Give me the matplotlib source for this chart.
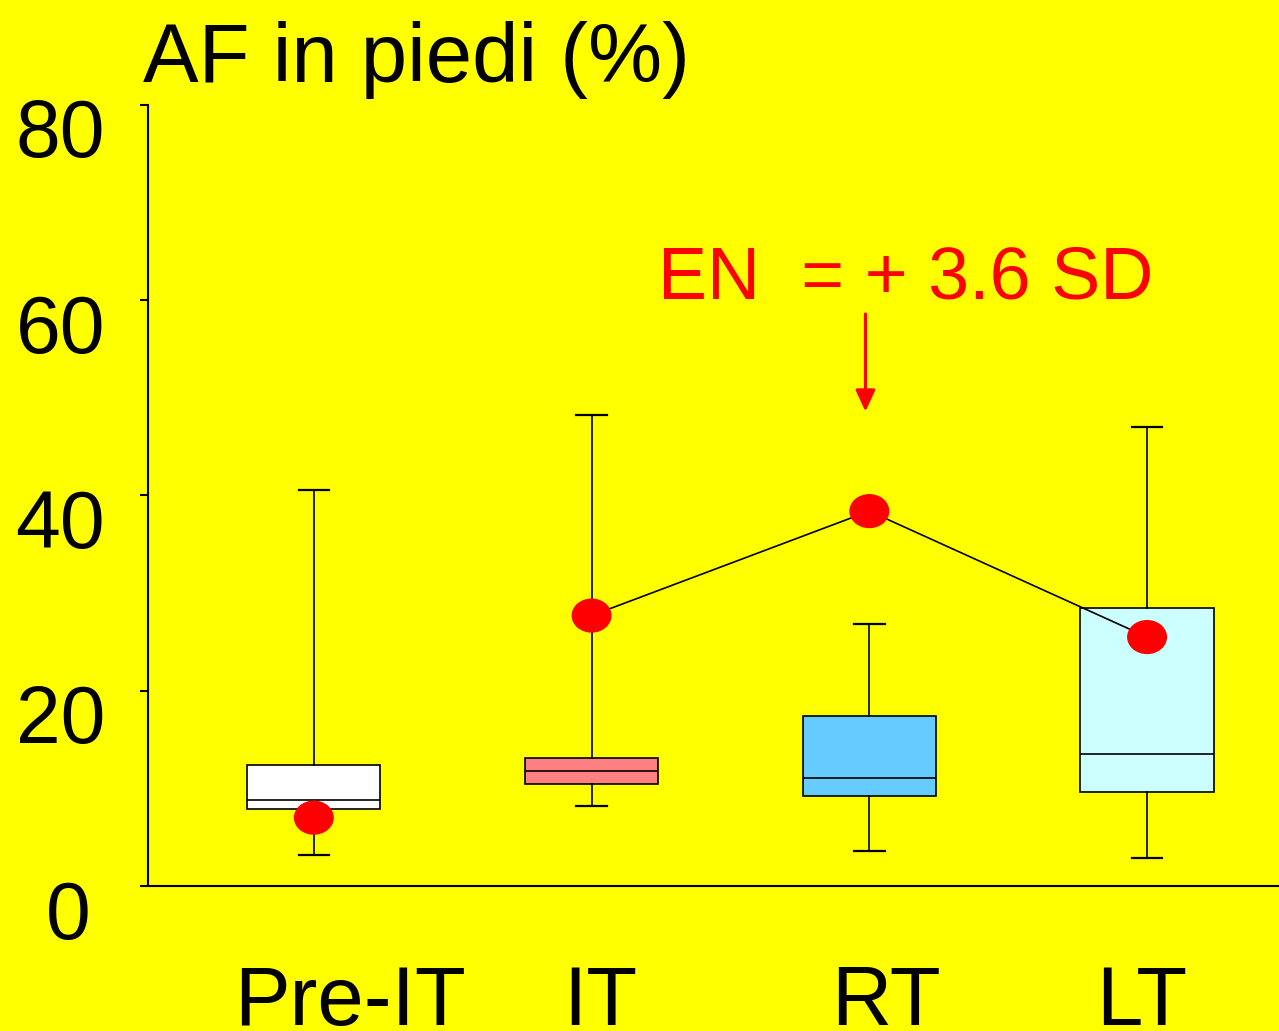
import matplotlib.pyplot as plt
from matplotlib.patches import Ellipse
from matplotlib.transforms import ScaledTranslation

plt.rcParams['font.family'] = ['Liberation Sans', 'DejaVu Sans']

# ---------------------- 数据 ----------------------
groups = ["Pre-IT", "IT", "RT", "LT"]
positions = [1, 2, 3, 4]
label_pos = [1.13, 2.03, 3.06, 3.98]
whislo = [3.2, 8.2, 3.6, 2.9]
q1 = [7.9, 10.45, 9.2, 9.6]
med = [8.8, 11.8, 11.1, 13.5]
q3 = [12.4, 13.1, 17.4, 28.5]
whishi = [40.6, 48.2, 26.8, 47.0]
box_colors = ["#FFFFFF", "#FF8080", "#66CCFF", "#CCFFFF"]
patient = [7.0, 27.7, 38.4, 25.5]   # 红点
yticks = [0, 20, 40, 60, 80]

bg = "#FFFF00"
fig = plt.figure(figsize=(12.79, 10.31), dpi=100, facecolor=bg)
ax = fig.add_axes([148 / 1279, 145 / 1031, 1 - 148 / 1279, 781 / 1031])
ax.set_facecolor(bg)
ax.set_xlim(0.403, 4.475)
ax.set_ylim(0, 80)

stats = []
for i in range(len(groups)):
    stats.append(dict(whislo=whislo[i], q1=q1[i], med=med[i], q3=q3[i],
                      whishi=whishi[i], fliers=[], label=groups[i]))
bp = ax.bxp(stats, positions=positions, widths=0.48, capwidths=0.11,
            patch_artist=True, showfliers=False,
            boxprops=dict(linewidth=1.2, edgecolor="black"),
            whiskerprops=dict(linewidth=1.2, color="black"),
            capprops=dict(linewidth=1.6, color="black"),
            medianprops=dict(linewidth=1.2, color="black"))
for patch, c in zip(bp["boxes"], box_colors):
    patch.set_facecolor(c)

# 连线（IT, RT, LT）
ax.plot(positions[1:], patient[1:], color="black", linewidth=1.2, zorder=4)
for x, y in zip(positions, patient):
    ax.add_patch(Ellipse((x, y), 0.144, 3.5, facecolor="red", edgecolor="none", zorder=5))

# 注释
ax.annotate("", xy=(2.986, 48.6), xytext=(2.986, 58.6),
            arrowprops=dict(arrowstyle="-|>,head_width=0.3,head_length=0.65",
                            mutation_scale=20, color="red", linewidth=2.2,
                            shrinkA=0, shrinkB=0))
ax.text(3.13, 60.2, "EN  = + 3.6 SD", color="red", fontsize=53,
        ha="center", va="baseline")

# 坐标轴
for s in ["top", "right"]:
    ax.spines[s].set_visible(False)
ax.spines["left"].set_linewidth(1.5)
ax.spines["bottom"].set_linewidth(1.5)
ax.set_xticks([])
ax.set_yticks(yticks)
ax.set_yticklabels([str(v) for v in yticks])
ax.tick_params(axis="y", length=6, width=1.5, pad=25, labelsize=58)
for lab in ax.get_yticklabels():
    dx = -0.14 if lab.get_text() == "0" else 0
    lab.set_transform(lab.get_transform() + ScaledTranslation(dx, -0.23, fig.dpi_scale_trans))

for x, g in zip(label_pos, groups):
    ax.text(x, -14.2, g, fontsize=60, ha="center", va="baseline", clip_on=False)

fig.text(143 / 1279, 1 - 82 / 1031, "AF in piedi (%)", fontsize=60, ha="left", va="baseline")

plt.savefig("out.png", dpi=100, facecolor=bg)
